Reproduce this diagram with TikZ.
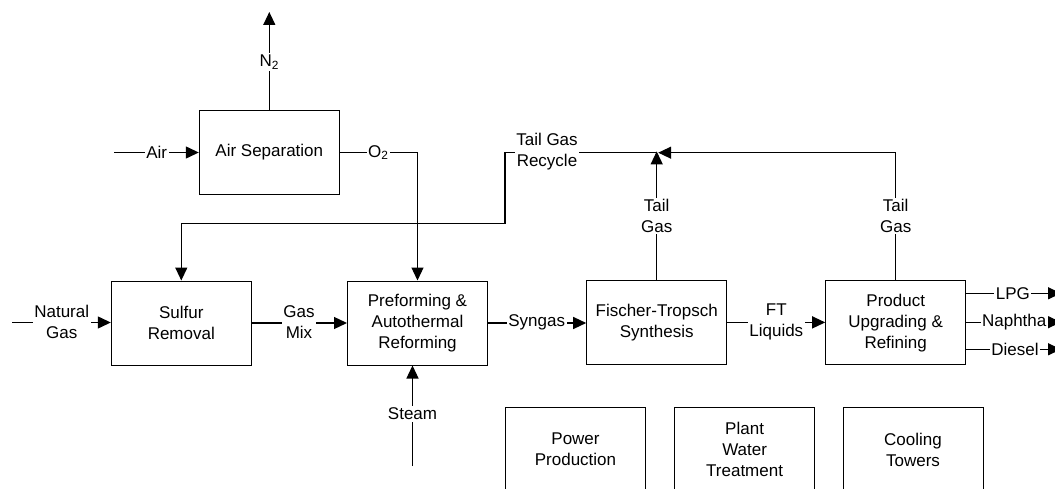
\documentclass[tikz,border=0pt]{standalone}
\usepackage{fontspec}
\setmainfont{Liberation Sans}
\usetikzlibrary{arrows.meta}
\begin{document}
\begin{tikzpicture}[x=1pt, y=-1pt,
  every node/.style={font=\fontsize{17}{21}\selectfont},
  unit/.style={draw, line width=1pt, minimum width=140pt, minimum height=84pt,
               align=center, inner sep=0pt},
  flow/.style={line width=1.3pt, -{Triangle[length=13pt, width=12pt]}},
  tag/.style={fill=white, inner sep=1.5pt, align=center}]

\clip (0,0) rectangle (1055,489);
\fill[white] (0,0) rectangle (1055,489);

% process units
\node[unit] (asu) at (269.3,152.5) {Air Separation};
\node[unit] (sr)  at (181.3,323) {Sulfur\\Removal};
\node[unit] (atr) at (417.5,323) {Preforming \&\\Autothermal\\Reforming};
\node[unit] (ft)  at (656.7,322.4) {Fischer-Tropsch\\Synthesis};
\node[unit] (pu)  at (895.7,322.8) {Product\\Upgrading \&\\Refining};

% utilities
\node[unit] (pp) at (575.5,449.7) {Power\\Production};
\node[unit] (pw) at (744.6,449.7) {Plant\\Water\\Treatment};
\node[unit] (ct) at (913,449.7)   {Cooling\\Towers};

% stream end points and bends
\coordinate (airin)   at (114,152.5);
\coordinate (n2out)   at (269.3,12);
\coordinate (o2bend)  at (417.5,152.5);
\coordinate (ngin)    at (12.3,322.5);
\coordinate (steamin) at (412.5,466);
\coordinate (join)    at (656.7,152.7);
\coordinate (rbendA)  at (505,152.7);
\coordinate (rbendB)  at (505,223.3);
\coordinate (lpg)     at (1061,293.3);
\coordinate (naph)    at (1061,322.2);
\coordinate (dsl)     at (1061,349.3);

% streams
\draw[flow] (airin) -- (asu.west);
\draw[flow] (asu.north) -- (n2out);
\draw[flow] (asu.east) -- (o2bend) -- (atr.north);
\draw[flow] (ngin) -- (ngin -| sr.west);
\draw[flow] (sr.east) -- (sr.east -| atr.west);
\draw[flow] (atr.east) -- (atr.east -| ft.west);
\draw[flow] (ft.east) -- (ft.east -| pu.west);
\draw[flow] (steamin) -- (steamin |- atr.south);
\draw[flow] (ft.north) -- ([yshift=1.3pt]join);
\draw[flow] (pu.north) |- ([xshift=1.5pt]join);
\draw[flow] (join) -- (rbendA) -- (rbendB) -| (sr.north);
\draw[flow] (pu.east |- lpg) -- (lpg);
\draw[flow] (pu.east |- naph) -- (naph);
\draw[flow] (pu.east |- dsl) -- (dsl);

% stream labels
\node[tag] (tair)   at (156.7,152.5) {Air};
\node[tag] (tn2)    at (269.3,62)    {N\textsubscript{2}};
\node[tag] (to2)    at (378.3,152.5) {O\textsubscript{2}};
\node[tag] (tng)    at (61.7,322.2)  {Natural\\Gas};
\node[tag] (tmix)   at (299,322.2)   {Gas\\Mix};
\node[tag] (tsyn)   at (536.7,322.5) {Syngas};
\node[tag] (tftl)   at (776.3,322.2) {FT\\Liquids};
\node[tag] (tsteam) at (412.5,414)   {Steam};
\node[tag] (ttgA)   at (656.7,216)   {Tail\\Gas};
\node[tag] (ttgB)   at (895.7,216)   {Tail\\Gas};
\node[tag] (trec)   at (547,151.5)   {Tail Gas\\Recycle};
\node[tag] (tlpg)   at (1012.8,293.3) {LPG};
\node[tag] (tnaph)  at (1014.2,322.2) {Naphtha};
\node[tag] (tdsl)   at (1015,349.3)  {Diesel};

\end{tikzpicture}
\end{document}
